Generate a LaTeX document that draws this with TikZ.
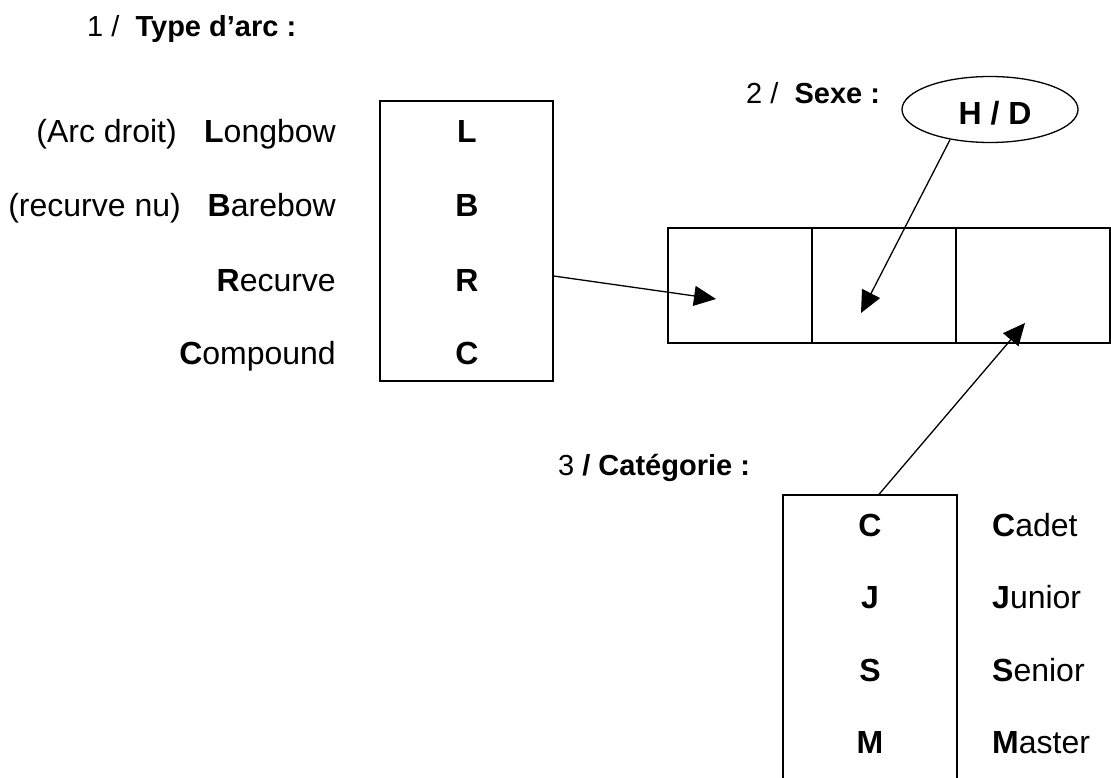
\documentclass[tikz,border=0pt]{standalone}
\usepackage{fontspec}
\setmainfont{Liberation Sans}
\usetikzlibrary{arrows.meta,shapes.geometric}
\begin{document}
\begin{tikzpicture}[x=1pt,y=-1pt,
  lbl/.style={inner sep=0pt, font=\fontsize{32}{38}\selectfont},
  ttl/.style={inner sep=0pt, font=\fontsize{29}{35}\selectfont, anchor=base west},
  lbox/.style={draw, line width=1.3pt, rectangle, inner sep=0pt},
  conn/.style={line width=1.3pt, -{Triangle[length=22pt,width=20pt]}}]
\useasboundingbox (0,0) rectangle (1111,778);

% titles
\node[ttl] (t1) at (87,37) {1 /\ \ \textbf{Type d’arc :}};
\node[ttl] (t2) at (746,104) {2 /\ \ \textbf{Sexe :}};
\node[ttl] (t3) at (558,475) {3 \textbf{/ Catégorie :}};

% left box (type d'arc)
\node[lbox, minimum width=173pt, minimum height=280pt] (typebox) at (466.5,241) {};
\node[lbl, anchor=base] (kL) at (467,142.5) {\textbf{L}};
\node[lbl, anchor=base] (kB) at (467,217) {\textbf{B}};
\node[lbl, anchor=base] (kR) at (467,291) {\textbf{R}};
\node[lbl, anchor=base] (kC) at (467,364) {\textbf{C}};

\node[lbl, anchor=base east] (nL) at (336,142.5) {\textbf{L}ongbow};
\node[lbl, anchor=base east] (nB) at (336,217) {\textbf{B}arebow};
\node[lbl, anchor=base east] (nR) at (336,291) {\textbf{R}ecurve};
\node[lbl, anchor=base east] (nC) at (336,364) {\textbf{C}ompound};
\node[lbl, anchor=base east] (pL) at (177,142.5) {(Arc droit)};
\node[lbl, anchor=base east] (pB) at (181,217) {(recurve nu)};

% code cells
\node[lbox, minimum width=144pt, minimum height=115pt] (cell1) at (740,285.5) {};
\node[lbox, minimum width=144pt, minimum height=115pt] (cell2) at (884,285.5) {};
\node[lbox, minimum width=154pt, minimum height=115pt] (cell3) at (1033,285.5) {};

% sexe ellipse
\node[draw, ellipse, line width=1.3pt, minimum width=176pt, minimum height=66pt, inner sep=0pt] (hd) at (990,109.5) {};
\node[lbl, anchor=base] (hdt) at (995,125) {\textbf{H / D}};

% categorie box (open at the bottom edge)
\node[lbox, minimum width=174pt, minimum height=305pt] (catbox) at (870,647.5) {};
\node[lbl, anchor=base] (cC) at (870,536.5) {\textbf{C}};
\node[lbl, anchor=base] (cJ) at (870,608.5) {\textbf{J}};
\node[lbl, anchor=base] (cS) at (870,681.5) {\textbf{S}};
\node[lbl, anchor=base] (cM) at (870,753.5) {\textbf{M}};
\node[lbl, anchor=base west] (dC) at (992,536.5) {\textbf{C}adet};
\node[lbl, anchor=base west] (dJ) at (992,608.5) {\textbf{J}unior};
\node[lbl, anchor=base west] (dS) at (992,681.5) {\textbf{S}enior};
\node[lbl, anchor=base west] (dM) at (992,753.5) {\textbf{M}aster};

% arrow tips
\coordinate (tip1) at (716,299);
\coordinate (tip2) at (861,313);
\coordinate (tip3) at (1025,323);

\draw[conn] ([yshift=-35pt]typebox.east) -- (tip1);
\draw[conn] (hd.217) -- (tip2);
\draw[conn] ([xshift=9pt]catbox.north) -- (tip3);
\end{tikzpicture}
\end{document}
